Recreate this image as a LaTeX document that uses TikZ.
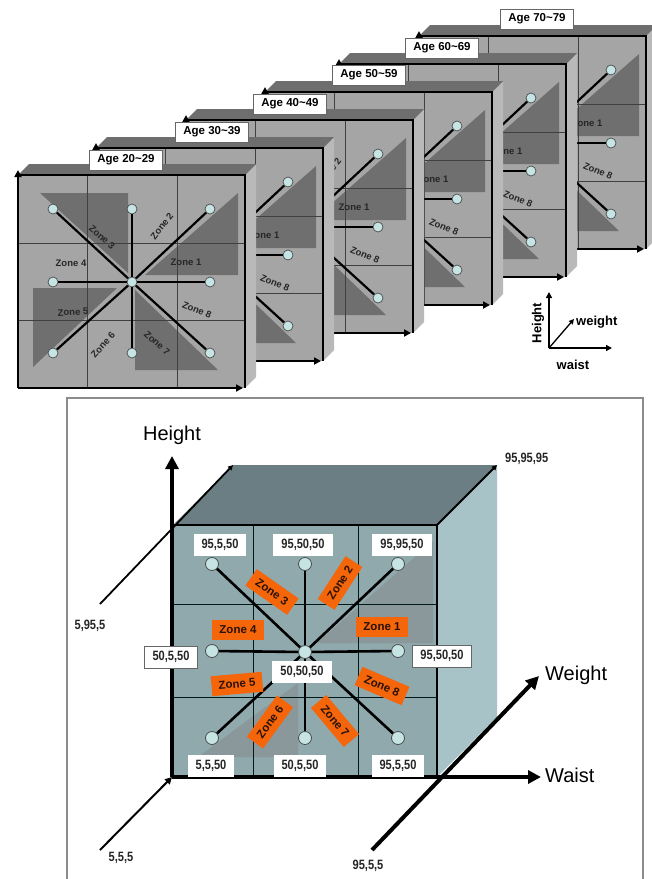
\documentclass[tikz,border=0pt]{standalone}
\usepackage{fontspec}
\setmainfont{Liberation Sans}
\newfontfamily\narrowfont[FakeStretch=0.82]{Liberation Sans}
\usetikzlibrary{arrows.meta}

\definecolor{tfront}{HTML}{A5A5A5}
\definecolor{ttri}{HTML}{6F6F6F}
\definecolor{ttop}{HTML}{6E6E6E}
\definecolor{tright}{HTML}{B9B9B9}
\definecolor{bfront}{HTML}{8FA9AD}
\definecolor{btop}{HTML}{6A7E84}
\definecolor{bright}{HTML}{A7C3C7}
\definecolor{btri}{HTML}{8B989B}
\definecolor{nodefill}{HTML}{C6E4E4}
\definecolor{zoneorange}{HTML}{F5650A}
\definecolor{zonetextcol}{HTML}{2A1206}

\tikzset{
  smalldot/.style={circle, draw=black!70, fill=nodefill, line width=0.7pt, minimum size=10pt, inner sep=0pt},
  bigdot/.style={circle, draw=black!70, fill=nodefill, line width=0.8pt, minimum size=13pt, inner sep=0pt},
  spoke/.style={line width=2.2pt, black},
  bigspoke/.style={line width=2.6pt, black},
  tgrid/.style={line width=0.7pt, black!75},
  bgrid/.style={line width=1pt, black!80!teal},
  zonetext/.style={font=\bfseries\fontsize{9.5}{9.5}\selectfont, text=black!85, inner sep=0pt},
  agebox/.style={draw=black!60, fill=white, line width=0.6pt, font=\bfseries\fontsize{11.5}{11.5}\selectfont, minimum width=73pt, minimum height=20pt, inner sep=0pt},
  zonebox/.style={fill=zoneorange, font=\bfseries\fontsize{11.5}{11.5}\selectfont, text=zonetextcol, minimum height=20pt, inner xsep=7pt, inner ysep=0pt},
  valbox/.style={fill=white, font=\narrowfont\bfseries\fontsize{13.5}{13.5}\selectfont, text=black!85, minimum height=22pt, inner xsep=8pt, inner ysep=0pt},
  coordtext/.style={font=\narrowfont\bfseries\fontsize{13.5}{13.5}\selectfont, text=black!85, inner sep=0pt},
  axisarrow/.style={line width=2.2pt, -{Triangle[length=7pt,width=7pt]}},
  bigaxis/.style={line width=4pt, -{Triangle[length=13pt,width=13pt]}},
  thinaxis/.style={line width=1.8pt, -{Triangle[length=6pt,width=6pt]}},
  diagline/.style={line width=1.8pt, -{Triangle[length=5pt,width=5pt]}},
  bigtext/.style={font=\fontsize{20}{20}\selectfont, inner sep=0pt},
  legendtext/.style={font=\bfseries\fontsize{13}{13}\selectfont, inner sep=0pt},
}

% #1 id, #2 L, #3 T, #4 label, #5 label x, #6 label y, #7 = 1 for front cube (all zone texts)
\newcommand\agecube[7]{%
\begin{scope}[shift={(#2,#3)}]
  \fill[tright] (227,0) -- (238,-11) -- (238,202) -- (227,213) -- cycle;
  \fill[ttop] (0,0) -- (11,-11) -- (238,-11) -- (227,0) -- cycle;
  \fill[tfront] (0,0) rectangle (227,213);
  \fill[ttri] (22,18) -- (110,18) -- (110,98) -- cycle;
  \fill[ttri] (220,18) -- (220,100) -- (127,100) -- cycle;
  \fill[ttri] (15,113) -- (99,113) -- (15,192) -- cycle;
  \fill[ttri] (117,115) -- (117,195) -- (200,195) -- cycle;
  \draw[tgrid] (69,0) -- (69,213) (159,0) -- (159,213) (0,68) -- (227,68) (0,145) -- (227,145);
  \ifnum#7=1
  \node[zonetext, rotate=-41] (#1z3) at (84,62) {Zone 3};
  \node[zonetext] (#1z4) at (53,88) {Zone 4};
  \node[zonetext, rotate=3] (#1z5) at (55,137) {Zone 5};
  \node[zonetext, rotate=48] (#1z6) at (85,170) {Zone 6};
  \node[zonetext, rotate=-42] (#1z7) at (139,168) {Zone 7};
  \fi
  \node[zonetext, rotate=52] (#1z2) at (144,51) {Zone 2};
  \node[zonetext] (#1z1) at (168,87) {Zone 1};
  \node[zonetext, rotate=-23] (#1z8) at (179,135) {Zone 8};
  \node[smalldot] (#1c) at (114,107) {};
  \node[smalldot] (#1n1) at (35,34) {};
  \node[smalldot] (#1n2) at (114,34) {};
  \node[smalldot] (#1n3) at (192,34) {};
  \node[smalldot] (#1n4) at (35,107) {};
  \node[smalldot] (#1n5) at (192,107) {};
  \node[smalldot] (#1n6) at (35,178) {};
  \node[smalldot] (#1n7) at (114,178) {};
  \node[smalldot] (#1n8) at (192,178) {};
  \foreach \k in {1,...,8} {\draw[spoke] (#1c) -- (#1n\k);}
  \draw[line width=1.8pt] (0,0) -- (227,0) -- (227,213);
  \coordinate (#1o) at (0,213);
  \coordinate (#1y) at (0,-5);
  \coordinate (#1x) at (225,213);
  \draw[axisarrow] (#1o) -- (#1y);
  \draw[axisarrow] (#1o) -- (#1x);
\end{scope}
\node[agebox] (#1lab) at (#5,#6) {#4};
}

\begin{document}
\begin{tikzpicture}[x=1pt,y=-1pt]
\fill[white] (0,0) rectangle (652,879);
\useasboundingbox (0,0) rectangle (652,879);

% ---------- top: stacked age cubes ----------
\agecube{kf}{419}{36}{Age 70\textasciitilde79}{537}{19}{0}
\agecube{ke}{339}{64}{Age 60\textasciitilde69}{442}{48}{0}
\agecube{kd}{265}{92}{Age 50\textasciitilde59}{369}{75}{0}
\agecube{kc}{186}{120}{Age 40\textasciitilde49}{290}{104}{0}
\agecube{kb}{96}{148}{Age 30\textasciitilde39}{212}{132}{0}
\agecube{ka}{18}{175}{Age 20\textasciitilde29}{126}{160}{1}

% legend
\coordinate (lo) at (549,348);
\coordinate (lh) at (549,292);
\coordinate (lw) at (612,348);
\coordinate (lg) at (574,319);
\draw[thinaxis] (lo) -- (lh);
\draw[thinaxis] (lo) -- (lw);
\draw[line width=1.3pt, -{Triangle[length=5pt,width=5pt]}] (lo) -- (lg);
\node[legendtext, rotate=90] (lHeight) at (538,323) {Height};
\node[legendtext, anchor=west] (lweight) at (576,322) {weight};
\node[legendtext] (lwaist) at (573,365) {waist};

% ---------- bottom: detailed cube ----------
\draw[black!45, line width=1.3pt] (67,885) -- (67,398) -- (643,398) -- (643,885);

\fill[btop] (173,525) -- (437,525) -- (497,465) -- (233,465) -- cycle;
\fill[bright] (437,525) -- (497,465) -- (497,717) -- (437,777) -- cycle;
\fill[bfront] (173,525) rectangle (437,777);
\fill[btri] (433,541) -- (433,643) -- (317,643) -- cycle;
\fill[btri] (298,683) -- (298,757) -- (198,757) -- cycle;
\draw[bgrid] (253,525) -- (253,777) (358,525) -- (358,777) (173,604) -- (437,604) (173,697) -- (437,697);

\node[bigdot] (bc) at (305,652) {};
\node[bigdot] (b1) at (212,564) {};
\node[bigdot] (b2) at (305,564) {};
\node[bigdot] (b3) at (398,564) {};
\node[bigdot] (b4) at (212,651) {};
\node[bigdot] (b5) at (398,651) {};
\node[bigdot] (b6) at (212,738) {};
\node[bigdot] (b7) at (305,738) {};
\node[bigdot] (b8) at (398,738) {};
\foreach \k in {1,...,8} {\draw[bigspoke] (bc) -- (b\k);}

\node[zonebox, rotate=-35] (bz3) at (272,592) {Zone 3};
\node[zonebox, rotate=57] (bz2) at (340,583) {Zone 2};
\node[zonebox] (bz4) at (238,630) {Zone 4};
\node[zonebox] (bz1) at (382,627) {Zone 1};
\node[zonebox, rotate=5] (bz5) at (237,684) {Zone 5};
\node[zonebox, rotate=54] (bz6) at (270,722) {Zone 6};
\node[zonebox, rotate=-50] (bz7) at (335,721) {Zone 7};
\node[zonebox, rotate=-23] (bz8) at (382,686) {Zone 8};

\draw[line width=2.5pt] (173,525) -- (437,525) -- (437,777);

\coordinate (p5955) at (100,604);
\coordinate (pbTL) at (233,465);
\coordinate (pfTR) at (437,525);
\coordinate (pbTR) at (497,465);
\coordinate (p555) at (100,850);
\coordinate (porig) at (172,777);
\coordinate (hTop) at (172,456);
\coordinate (wEnd) at (541,777);
\coordinate (p955) at (372,850);
\coordinate (gEnd) at (539,676);
\draw[diagline] (p5955) -- (pbTL);
\draw[diagline] (pfTR) -- (pbTR);
\draw[line width=2pt, -{Triangle[length=7pt,width=7pt]}] (p555) -- (porig);
\draw[bigaxis] (porig) -- (hTop);
\draw[bigaxis] (porig) -- (wEnd);
\draw[bigaxis] (p955) -- (gEnd);

\node[valbox] (v1) at (220,545) {95,5,50};
\node[valbox] (v2) at (303,545) {95,50,50};
\node[valbox] (v3) at (402,545) {95,95,50};
\node[valbox, draw=black!60, line width=0.7pt] (v4) at (171,657) {50,5,50};
\node[valbox] (v5) at (302,672) {50,50,50};
\node[valbox, draw=black!60, line width=0.7pt] (v6) at (442,656) {95,50,50};
\node[valbox] (v7) at (211,766) {5,5,50};
\node[valbox] (v8) at (300,766) {50,5,50};
\node[valbox] (v9) at (398,766) {95,5,50};

\node[bigtext] (tHeight) at (172,435) {Height};
\node[bigtext, anchor=west] (tWeight) at (545,675) {Weight};
\node[bigtext, anchor=west] (tWaist) at (545,775) {Waist};
\node[coordtext] (t5955) at (90,626) {5,95,5};
\node[coordtext] (t555) at (121,858) {5,5,5};
\node[coordtext] (t955) at (368,866) {95,5,5};
\node[coordtext, anchor=west] (t959595) at (505,459) {95,95,95};
\end{tikzpicture}
\end{document}
